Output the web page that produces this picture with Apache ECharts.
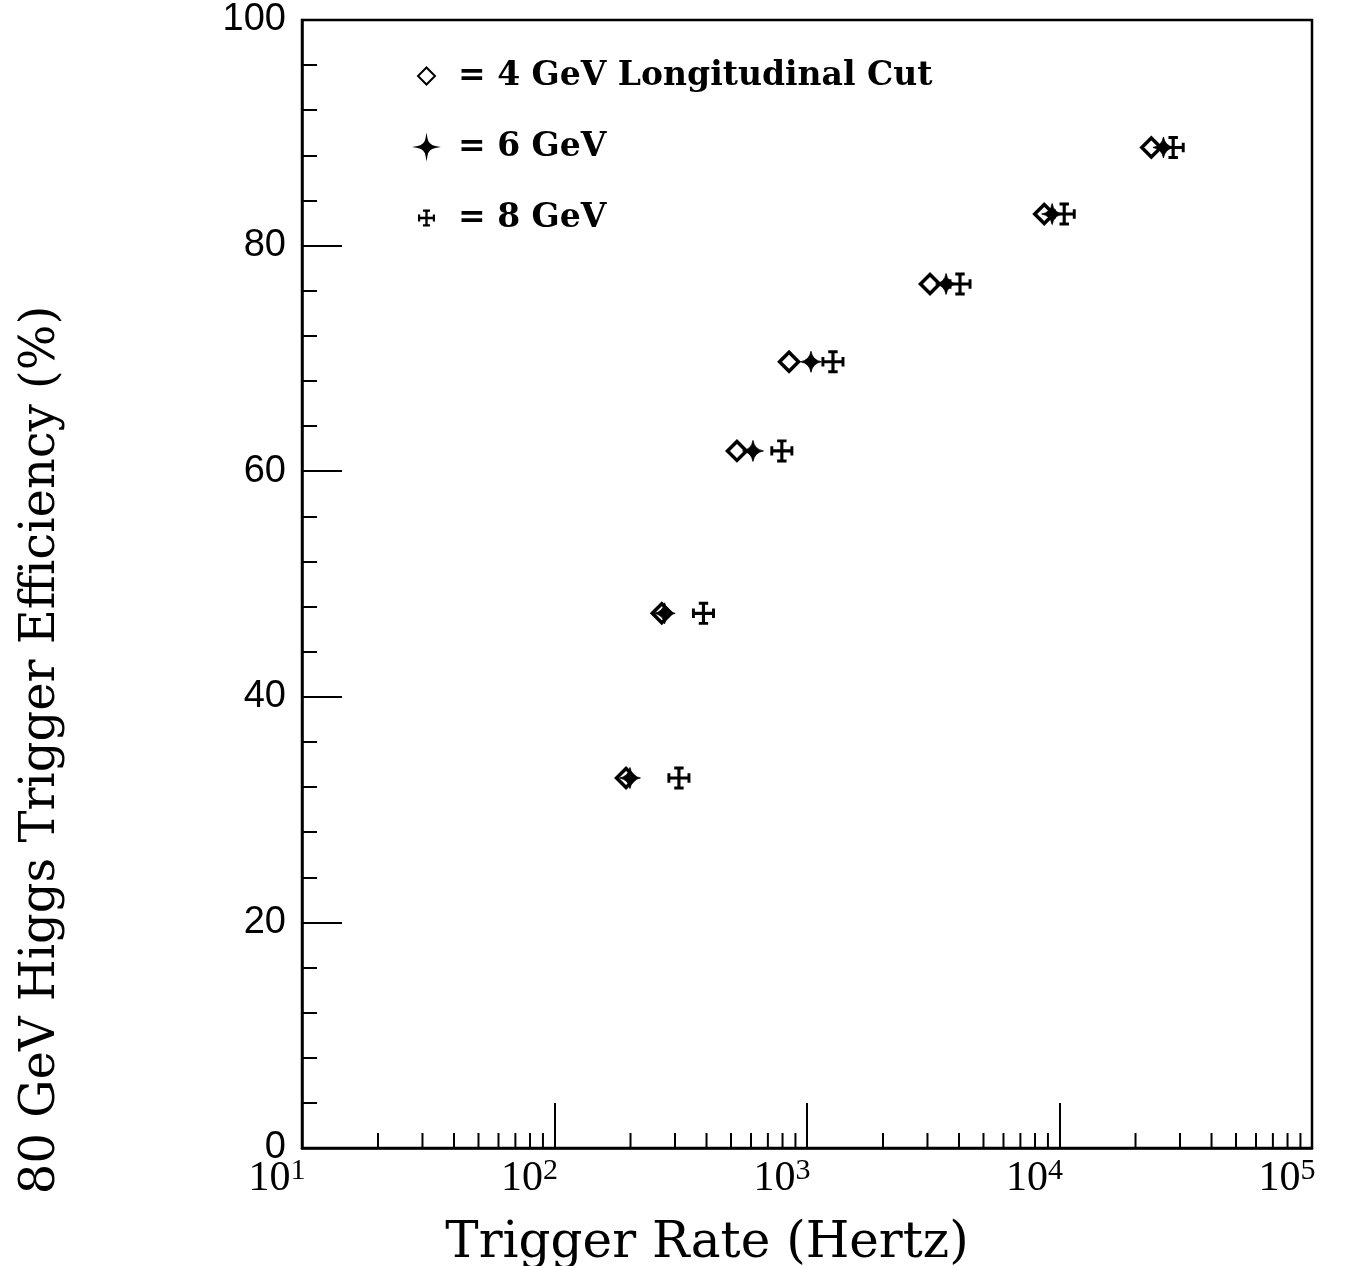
<!DOCTYPE html>
<html>
<head>
<meta charset="utf-8">
<script src="https://cdn.jsdelivr.net/npm/echarts@6/dist/echarts.min.js"></script>
<style>
html,body{margin:0;padding:0;background:#fff;}
#chart{width:1346px;height:1266px;}
</style>
</head>
<body>
<div id="chart"></div>
<script>
// ---- data ----
const efficiencyPct = [32.8, 47.4, 61.8, 69.7, 76.6, 82.8, 88.7];
const rate4GeV = [192, 266, 528, 849, 3070, 8700, 23100];
const rate6GeV = [199, 273, 611, 1037, 3555, 9350, 25800];
const rate8GeV = [311, 389, 795, 1267, 4036, 10440, 28200];
const seriesNames = ['4 GeV Longitudinal Cut', '6 GeV', '8 GeV'];
const yTickLabels = [0, 20, 40, 60, 80, 100];
const xDecades = [10, 100, 1000, 10000, 100000];
const minorTickMultipliers = [2, 3, 4, 5, 6, 7, 8, 9];

const minorTickRates = [];
xDecades.slice(0, -1).forEach(d => minorTickMultipliers.forEach(m => minorTickRates.push([d * m, 0])));

const pairs = (xs) => xs.map((x, i) => [x, efficiencyPct[i]]);

const starPath = 'path://M11 0 Q12.6 9.4 22 11 Q12.6 12.6 11 22 Q9.4 12.6 0 11 Q9.4 9.4 11 0 Z';
const crossPath = 'path://M9.5 0 L12.5 0 L12.5 22 L9.5 22 Z M0 9.5 L22 9.5 L22 12.5 L0 12.5 Z M6.5 0 L15.5 0 L15.5 2.8 L6.5 2.8 Z M6.5 19.2 L15.5 19.2 L15.5 22 L6.5 22 Z M0 6.5 L2.8 6.5 L2.8 15.5 L0 15.5 Z M19.2 6.5 L22 6.5 L22 15.5 L19.2 15.5 Z';

const chart = echarts.init(document.getElementById('chart'), null, {renderer: 'canvas'});
chart.setOption({
  backgroundColor: '#fff',
  animation: false,
  grid: {left: 302, right: 34, top: 20, bottom: 118, containLabel: false, outerBoundsMode: 'none',
    show: true, borderColor: '#000', borderWidth: 2.5, backgroundColor: 'transparent'},
  legend: {
    data: seriesNames,
    orient: 'vertical',
    left: 412,
    top: 51,
    itemWidth: 17,
    itemHeight: 17,
    itemGap: 31,
    formatter: n => '= ' + n,
    textStyle: {fontFamily: 'DejaVu Serif', fontSize: 33, fontWeight: 'bold', color: '#000', lineHeight: 40, padding: [0, 0, 0, 18]},
    selectedMode: false
  },
  xAxis: {
    type: 'log', logBase: 10, min: 10, max: 100000,
    name: 'Trigger Rate (Hertz)',
    nameLocation: 'middle',
    nameGap: 64,
    nameTextStyle: {fontFamily: 'DejaVu Serif', fontSize: 50, color: '#000', padding: [0, 200, 0, 0]},
    axisLine: {show: true, lineStyle: {color: '#000', width: 2.5}},
    axisTick: {show: true, inside: true, length: 45, lineStyle: {color: '#000', width: 2}},
    minorTick: {show: false},
    splitLine: {show: false},
    axisLabel: {
      margin: 8,
      padding: [0, 50, 0, 0],
      formatter: v => '{b|10}{s|' + Math.round(Math.log10(v)) + '}',
      rich: {
        b: {fontFamily: 'Liberation Serif', fontSize: 42, color: '#000', lineHeight: 46},
        s: {fontFamily: 'Liberation Serif', fontSize: 30, color: '#000', verticalAlign: 'top', lineHeight: 46, padding: [0, 0, 28, 0]}
      }
    }
  },
  yAxis: {
    type: 'value', min: 0, max: 100, interval: 20,
    axisLine: {show: true, lineStyle: {color: '#000', width: 2.5}},
    axisTick: {show: true, inside: true, length: 40, lineStyle: {color: '#000', width: 2}},
    minorTick: {show: true, splitNumber: 5, length: 15, lineStyle: {color: '#000', width: 2}},
    splitLine: {show: false},
    axisLabel: {margin: 16, fontFamily: 'Liberation Sans', fontSize: 38, color: '#000',
      formatter: v => yTickLabels.includes(v) ? String(v) : ''}
  },
  graphic: [{
    type: 'text', x: 42, y: 750, rotation: Math.PI / 2,
    style: {text: '80 GeV Higgs Trigger Efficiency (%)', font: '48px "DejaVu Serif"', fill: '#000', textAlign: 'center', textVerticalAlign: 'middle'}
  }],
  series: [
    {
      type: 'custom', name: 'minor ticks', silent: true, z: 1,
      data: minorTickRates,
      renderItem: (params, api) => {
        const p = api.coord([api.value(0), 0]);
        return {type: 'line', shape: {x1: p[0], y1: p[1], x2: p[0], y2: p[1] - 15}, style: {stroke: '#000', lineWidth: 2}};
      }
    },
    {
      type: 'scatter', name: seriesNames[0], data: pairs(rate4GeV),
      symbol: 'diamond', symbolSize: [19, 19], z: 3,
      itemStyle: {color: 'transparent', borderColor: '#000', borderWidth: 3.5, opacity: 1}
    },
    {
      type: 'scatter', name: seriesNames[1], data: pairs(rate6GeV),
      symbol: starPath, symbolSize: [21, 21], z: 4,
      itemStyle: {color: '#000', borderColor: '#000', borderWidth: 0.8, opacity: 1}
    },
    {
      type: 'scatter', name: seriesNames[2], data: pairs(rate8GeV),
      symbol: crossPath, symbolSize: [23, 23], z: 4,
      itemStyle: {color: '#000', opacity: 1}
    }
  ]
});
</script>
</body>
</html>
